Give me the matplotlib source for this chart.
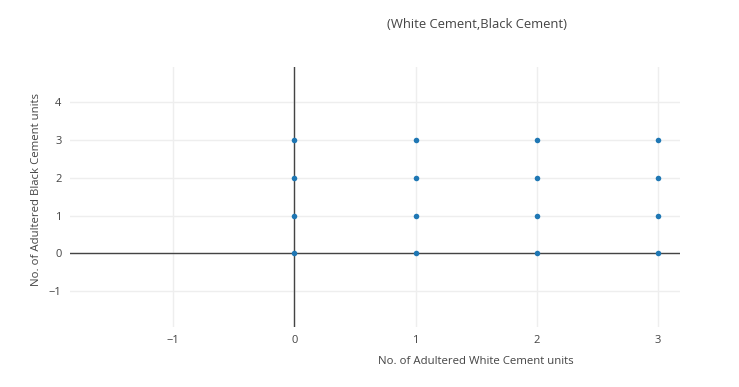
import matplotlib.pyplot as plt
import numpy as np

plt.rcParams['font.family'] = ['Open Sans', 'DejaVu Sans']

# adulterated units (white cement, black cement)
white_units = [0, 0, 0, 0, 1, 1, 1, 1, 2, 2, 2, 2, 3, 3, 3, 3]
black_units = [0, 1, 2, 3, 0, 1, 2, 3, 0, 1, 2, 3, 0, 1, 2, 3]
x_ticks = [-1, 0, 1, 2, 3]
y_ticks = [-1, 0, 1, 2, 3, 4]

fig = plt.figure(figsize=(7.39, 3.87), dpi=100)
ax = fig.add_axes([0.0947, 0.155, 0.8253, 0.672])

ax.scatter(white_units, black_units, s=16, color='#1f77b4', zorder=3, linewidths=0)

ax.set_xlim(-1.85, 3.18)
ax.set_ylim(-1.95, 4.93)
ax.set_xticks(x_ticks)
ax.set_yticks(y_ticks)
ax.set_xticklabels([str(t).replace('-', '\u2212') for t in x_ticks])
ax.set_yticklabels([str(t).replace('-', '\u2212') for t in y_ticks])

ax.grid(True, color='#eeeeee', linewidth=1)
ax.set_axisbelow(True)
ax.axhline(0, color='#444444', linewidth=1, zorder=2)
ax.axvline(0, color='#444444', linewidth=1, zorder=2)
for s in ax.spines.values():
    s.set_visible(False)
ax.tick_params(length=0, labelsize=8, colors='#444444', pad=6)

fig.text(476 / 739, 1 - 361 / 387, 'No. of Adultered White Cement units', ha='center', va='center',
         fontsize=8.2, color='#444444')
fig.text(37 / 739, 1 - 190 / 387, 'No. of Adultered Black Cement units', ha='center', va='center',
         rotation=90, fontsize=8.2, color='#444444')
fig.text(477 / 739, 1 - 25 / 387, '(White Cement,Black Cement)', ha='center', va='center',
         fontsize=9.4, color='#444444')

plt.savefig('out.png', dpi=100)
